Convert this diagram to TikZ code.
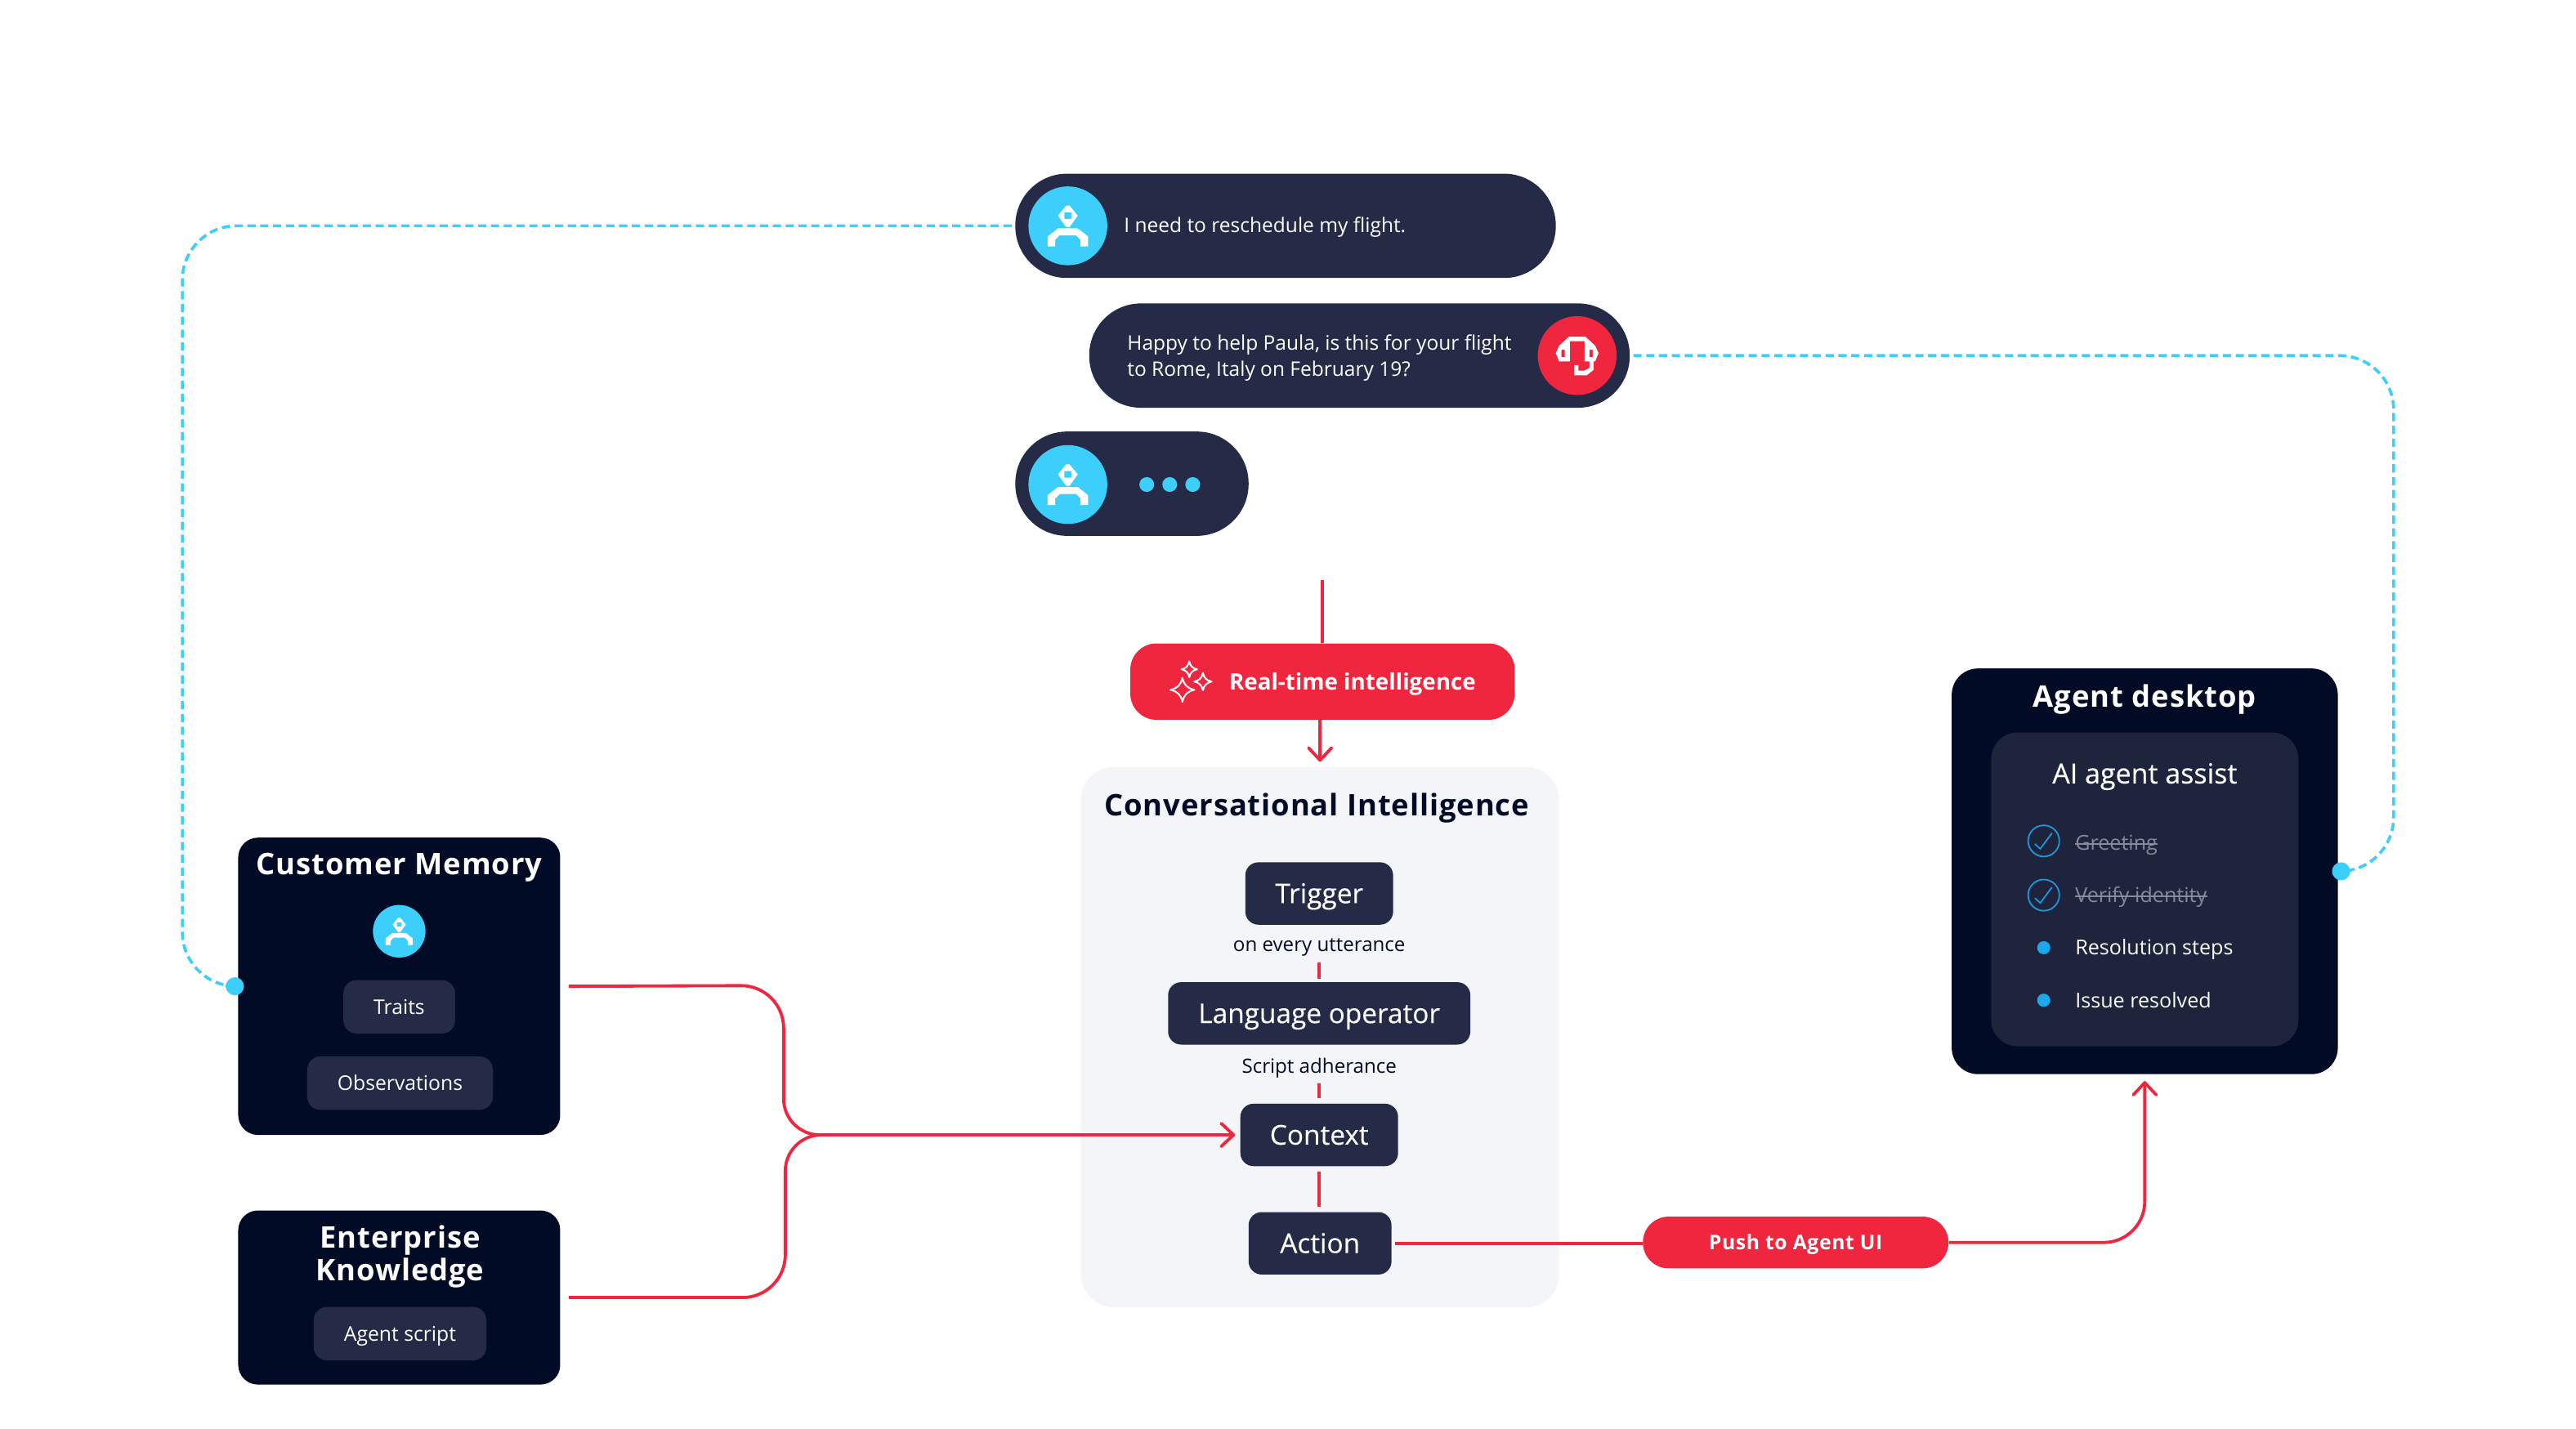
\documentclass[tikz,border=0pt]{standalone}
\usepackage{fontspec}
\setmainfont{Open Sans}
\newfontfamily\ttlf[LetterSpace=2.5]{Open Sans}
\newfontface\semi[FakeBold=0.3]{Open Sans}
\usetikzlibrary{arrows.meta,calc}
\definecolor{navy}{HTML}{020B26}
\definecolor{pillc}{HTML}{252B47}
\definecolor{innerc}{HTML}{1D243B}
\definecolor{cyanc}{HTML}{3CCFFB}
\definecolor{redc}{HTML}{F0263F}
\definecolor{panelc}{HTML}{F3F5F9}
\definecolor{dotc}{HTML}{1AA9F0}
\definecolor{checkc}{HTML}{2096DC}
\definecolor{strikec}{HTML}{838A9C}
\newcommand{\fs}[1]{\fontsize{#1}{#1}\selectfont}
\newcommand{\personicon}[2]{\begin{scope}[shift={(#1)},scale=#2]
\fill[white,even odd rule] (-1,-12.3)--(1,-12.3)--(6,-6.2)--(1,0.8)--(-1,0.8)--(-6,-6.2)--cycle
 (-2.1,-8.2) rectangle (2.1,-4.2);
\fill[white] (-12.3,12.5)--(-12.3,6.5)--(-6,1.5)--(6,1.5)--(12.3,6.5)--(12.3,12.5)--(7.7,12.5)--(7.7,8.5)--(5,5.8)--(-5,5.8)--(-7.7,8.5)--(-7.7,12.5)--cycle;
\end{scope}}
\newcommand{\staricon}[3]{\draw[white,line width=1pt,line join=round,shift={(#1,#2)},scale=#3]
 (0,-1) .. controls (.14,-.4) and (.4,-.14) .. (1,0) .. controls (.4,.14) and (.14,.4) .. (0,1) .. controls (-.14,.4) and (-.4,.14) .. (-1,0) .. controls (-.4,-.14) and (-.14,-.4) .. (0,-1) -- cycle;}
\newcommand{\checkicon}[1]{\draw[checkc,line width=.9pt,shift={(#1)}] (-5.4,1.8)--(-2.1,4.8)--(5,-4.8);}
\tikzset{
 x=1pt,y=-1pt,
 pill/.style={fill=pillc,rounded corners=31.5pt,inner sep=0pt,minimum height=63.5pt},
 avatar/.style={circle,inner sep=0pt,minimum size=48pt,fill=cyanc},
 darkbox/.style={fill=navy,rounded corners=12pt,inner sep=0pt},
 flowbox/.style={fill=pillc,rounded corners=8pt,inner sep=0pt,minimum height=38pt,text=white,font=\fs{16.6}\semi,text height=11.8pt,text depth=0pt},
 tag/.style={fill=pillc,rounded corners=8pt,inner sep=0pt,minimum height=32.5pt,text=white,font=\fs{12.3},text height=8.8pt,text depth=0pt},
 title/.style={text=white,font=\fs{18.1}\ttlf\bfseries,inner sep=0pt,align=center},
 onetitle/.style={title,text height=13pt,text depth=0pt},
 redline/.style={draw=redc,line width=1.9pt},
 redarrow/.style={redline,-{Straight Barb[length=7.5pt,width=14pt,round]}},
 blueline/.style={draw=cyanc,line width=1.8pt,dash pattern=on 5pt off 2.8pt},
 chat/.style={text=white,font=\fontsize{12.2}{16}\selectfont,inner sep=0pt,anchor=west,align=left},
 item/.style={text=white,font=\fs{12.5},inner sep=0pt,anchor=west,text height=9pt,text depth=0pt},
 done/.style={item,text=strikec},
 bullet/.style={circle,fill=dotc,inner sep=0pt,minimum size=8pt},
 ring/.style={circle,draw=checkc,line width=.9pt,inner sep=0pt,minimum size=19pt},
 endpoint/.style={circle,fill=cyanc,inner sep=0pt,minimum size=11pt},
 smalldark/.style={text=navy,font=\fs{12},inner sep=0pt,text height=8.6pt,text depth=0pt},
}
\begin{document}
\begin{tikzpicture}
\useasboundingbox (0,0) rectangle (1568,870);
\fill[white] (0,0) rectangle (1568,870);
% chat
\node[pill,minimum width=329pt] (p1) at (782.5,137.5) {};
\node[pill,minimum width=329pt] (p2) at (827.5,216.5) {};
\node[pill,minimum width=142pt] (p3) at (689,294.5) {};
\node[avatar] (a1) at (650,137.5) {};
\personicon{a1}{1}
\node[chat,text height=8.8pt,text depth=0pt] (t1) at (684,137) {I need to reschedule my flight.};
\node[avatar,fill=redc] (a2) at (960,216.5) {};
\begin{scope}[shift={(a2)}]
\fill[white,even odd rule] (-13,-1.5)--(-11,-6)--(-5,-11.5)--(5,-11.5)--(11,-6)--(13,-1.5)--(11,3.5)--(4.5,3.5)--(4.5,-8.8)--(-4.5,-8.8)--(-4.5,3.5)--(-11,3.5)--cycle
 (-9.5,-3.5) rectangle (-7.5,1) (7.5,-3.5) rectangle (9.5,1);
\fill[white] (10,3)--(10,8.7)--(5.8,12)--(-1.7,12)--(-1.7,5.8)--(.8,5.8)--(.8,9.2)--(4.2,9.2)--(7.5,7.5)--(7.5,3)--cycle;
\end{scope}
\node[chat] (t2) at (686,218) {Happy to help Paula, is this for your flight\\to Rome, Italy on February 19?};
\node[avatar] (a3) at (650,295) {};
\personicon{a3}{1}
\foreach \n/\x in {d1/698,d2/712,d3/726}
  \node[circle,fill=cyanc,inner sep=0pt,minimum size=9pt] (\n) at (\x,295) {};
% real time
\node[fill=redc,rounded corners=16pt,inner sep=0pt,minimum width=234pt,minimum height=46.5pt] (rti) at (805,415) {};
\staricon{723.9}{407.5}{4.8}
\staricon{732.2}{415}{5.3}
\staricon{719.7}{420}{7.3}
\node[text=white,font=\fs{13.8}\bfseries,inner sep=0pt,anchor=west,text height=9.9pt,text depth=0pt] (rtit) at (748,415) {Real-time intelligence};
% CI panel
\node[fill=panelc,rounded corners=20pt,inner sep=0pt,minimum width=291pt,minimum height=329pt] (ci) at (803.5,631.5) {};
\node[onetitle,text=navy] (cit) at (801.5,490) {Conversational Intelligence};
\node[flowbox,minimum width=90pt] (trig) at (803,544) {Trigger};
\node[smalldark] (u1) at (803,575) {on every utterance};
\node[flowbox,minimum width=184pt] (lang) at (803,617) {Language operator};
\node[smalldark] (u2) at (803,649) {Script adherance};
\node[flowbox,minimum width=96pt] (ctx) at (803,691) {Context};
\node[flowbox,minimum width=87pt] (act) at (803.5,757) {Action};
\draw[redline] ($(lang.north)+(0,-2)$) -- ++(0,-10);
\draw[redline] ($(ctx.north)+(0,-3)$) -- ++(0,-9);
\draw[redline] ($(ctx.south)+(0,3)$) -- ($(act.north |- act.north)+(-.5,-3)$);
% customer memory
\node[darkbox,minimum width=196pt,minimum height=181pt] (mem) at (243,600.5) {};
\node[onetitle] (memt) at (243,526) {Customer Memory};
\node[avatar,minimum size=32pt] (a4) at (243,567) {};
\personicon{a4}{.667}
\node[tag,minimum width=68pt] (tr) at (243,613) {Traits};
\node[tag,minimum width=113pt] (ob) at (243.5,659.5) {Observations};
% enterprise
\node[darkbox,minimum width=196pt,minimum height=106pt] (ent) at (243,790) {};
\node[title,font=\fontsize{18.1}{20}\ttlf\bfseries] (entt) at (243.5,765) {Enterprise\\Knowledge};
\node[tag,minimum width=105pt] (sc) at (243.5,812) {Agent script};
% agent desktop
\node[darkbox,rounded corners=16pt,minimum width=235pt,minimum height=247pt] (desk) at (1305.5,530.5) {};
\node[onetitle] (deskt) at (1305.5,424) {Agent desktop};
\node[fill=innerc,rounded corners=16pt,inner sep=0pt,minimum width=187pt,minimum height=191pt] (ai) at (1305.5,541.5) {};
\node[text=white,font=\fs{16.9}\semi,inner sep=0pt,text height=12pt,text depth=0pt] (ait) at (1305.5,471) {AI agent assist};
\node[ring] (r1) at (1244,512) {}; \checkicon{r1}
\node[ring] (r2) at (1244,545) {}; \checkicon{r2}
\node[bullet] (b1) at (1244,577) {};
\node[bullet] (b2) at (1244,609) {};
\node[done] (i1) at (1263,513) {Greeting};
\node[done] (i2) at (1263,545) {Verify identity};
\node[item] (i3) at (1263,577) {Resolution steps};
\node[item] (i4) at (1263,609) {Issue resolved};
\draw[strikec,line width=.7pt] ($(i1.west)+(0,.8)$) -- ($(i1.east)+(0,.8)$);
\draw[strikec,line width=.7pt] ($(i2.west)+(0,.8)$) -- ($(i2.east)+(0,.8)$);
% push
\node[fill=redc,rounded corners=15.7pt,inner sep=0pt,minimum width=186pt,minimum height=31.5pt,text=white,font=\fs{12.3}\ttlf\bfseries,text height=8.8pt,text depth=0pt] (push) at (1093,756.5) {Push to Agent UI};
% connectors
\coordinate (top) at (805,353);
\coordinate (junc) at (499,691);
\coordinate (c1) at (477,600);
\coordinate (c2) at (478,790);
\coordinate (blL) at (111,137.5);
\coordinate (blR) at (1457,216.5);
\coordinate (pc) at (1305.5,756.5);
\node[endpoint] (e1) at (143,600.5) {};
\node[endpoint] (e2) at (1425,530.5) {};
\draw[redline] (top) -- (top |- rti.north);
\draw[redarrow] (ci.north |- rti.south) -- ($(ci.north)+(0,-3)$);
\draw[redline] ($(mem.east)+(5,0)$) [rounded corners=26pt] -- (c1) [rounded corners=22pt] -- (c1 |- junc) -- (junc);
\draw[redline] ($(ent.east)+(5,0)$) [rounded corners=26pt] -- (c2) [rounded corners=22pt] -- (c2 |- junc) -- (junc);
\draw[redarrow] (junc) -- ($(ctx.west)+(-3,0)$);
\draw[redline] ($(act.east)+(2,0)$) -- (act.east -| push.west);
\draw[redarrow,rounded corners=25pt] (push.east) -- (pc) -- ($(desk.south)+(0,4)$);
\draw[blueline,rounded corners=33pt] ($(p1.west)+(-2,0)$) -- (blL) -- (blL |- e1) -- (e1);
\draw[blueline,rounded corners=33pt] ($(p2.east)+(2,0)$) -- (blR) -- (blR |- e2) -- (e2);
\end{tikzpicture}
\end{document}
